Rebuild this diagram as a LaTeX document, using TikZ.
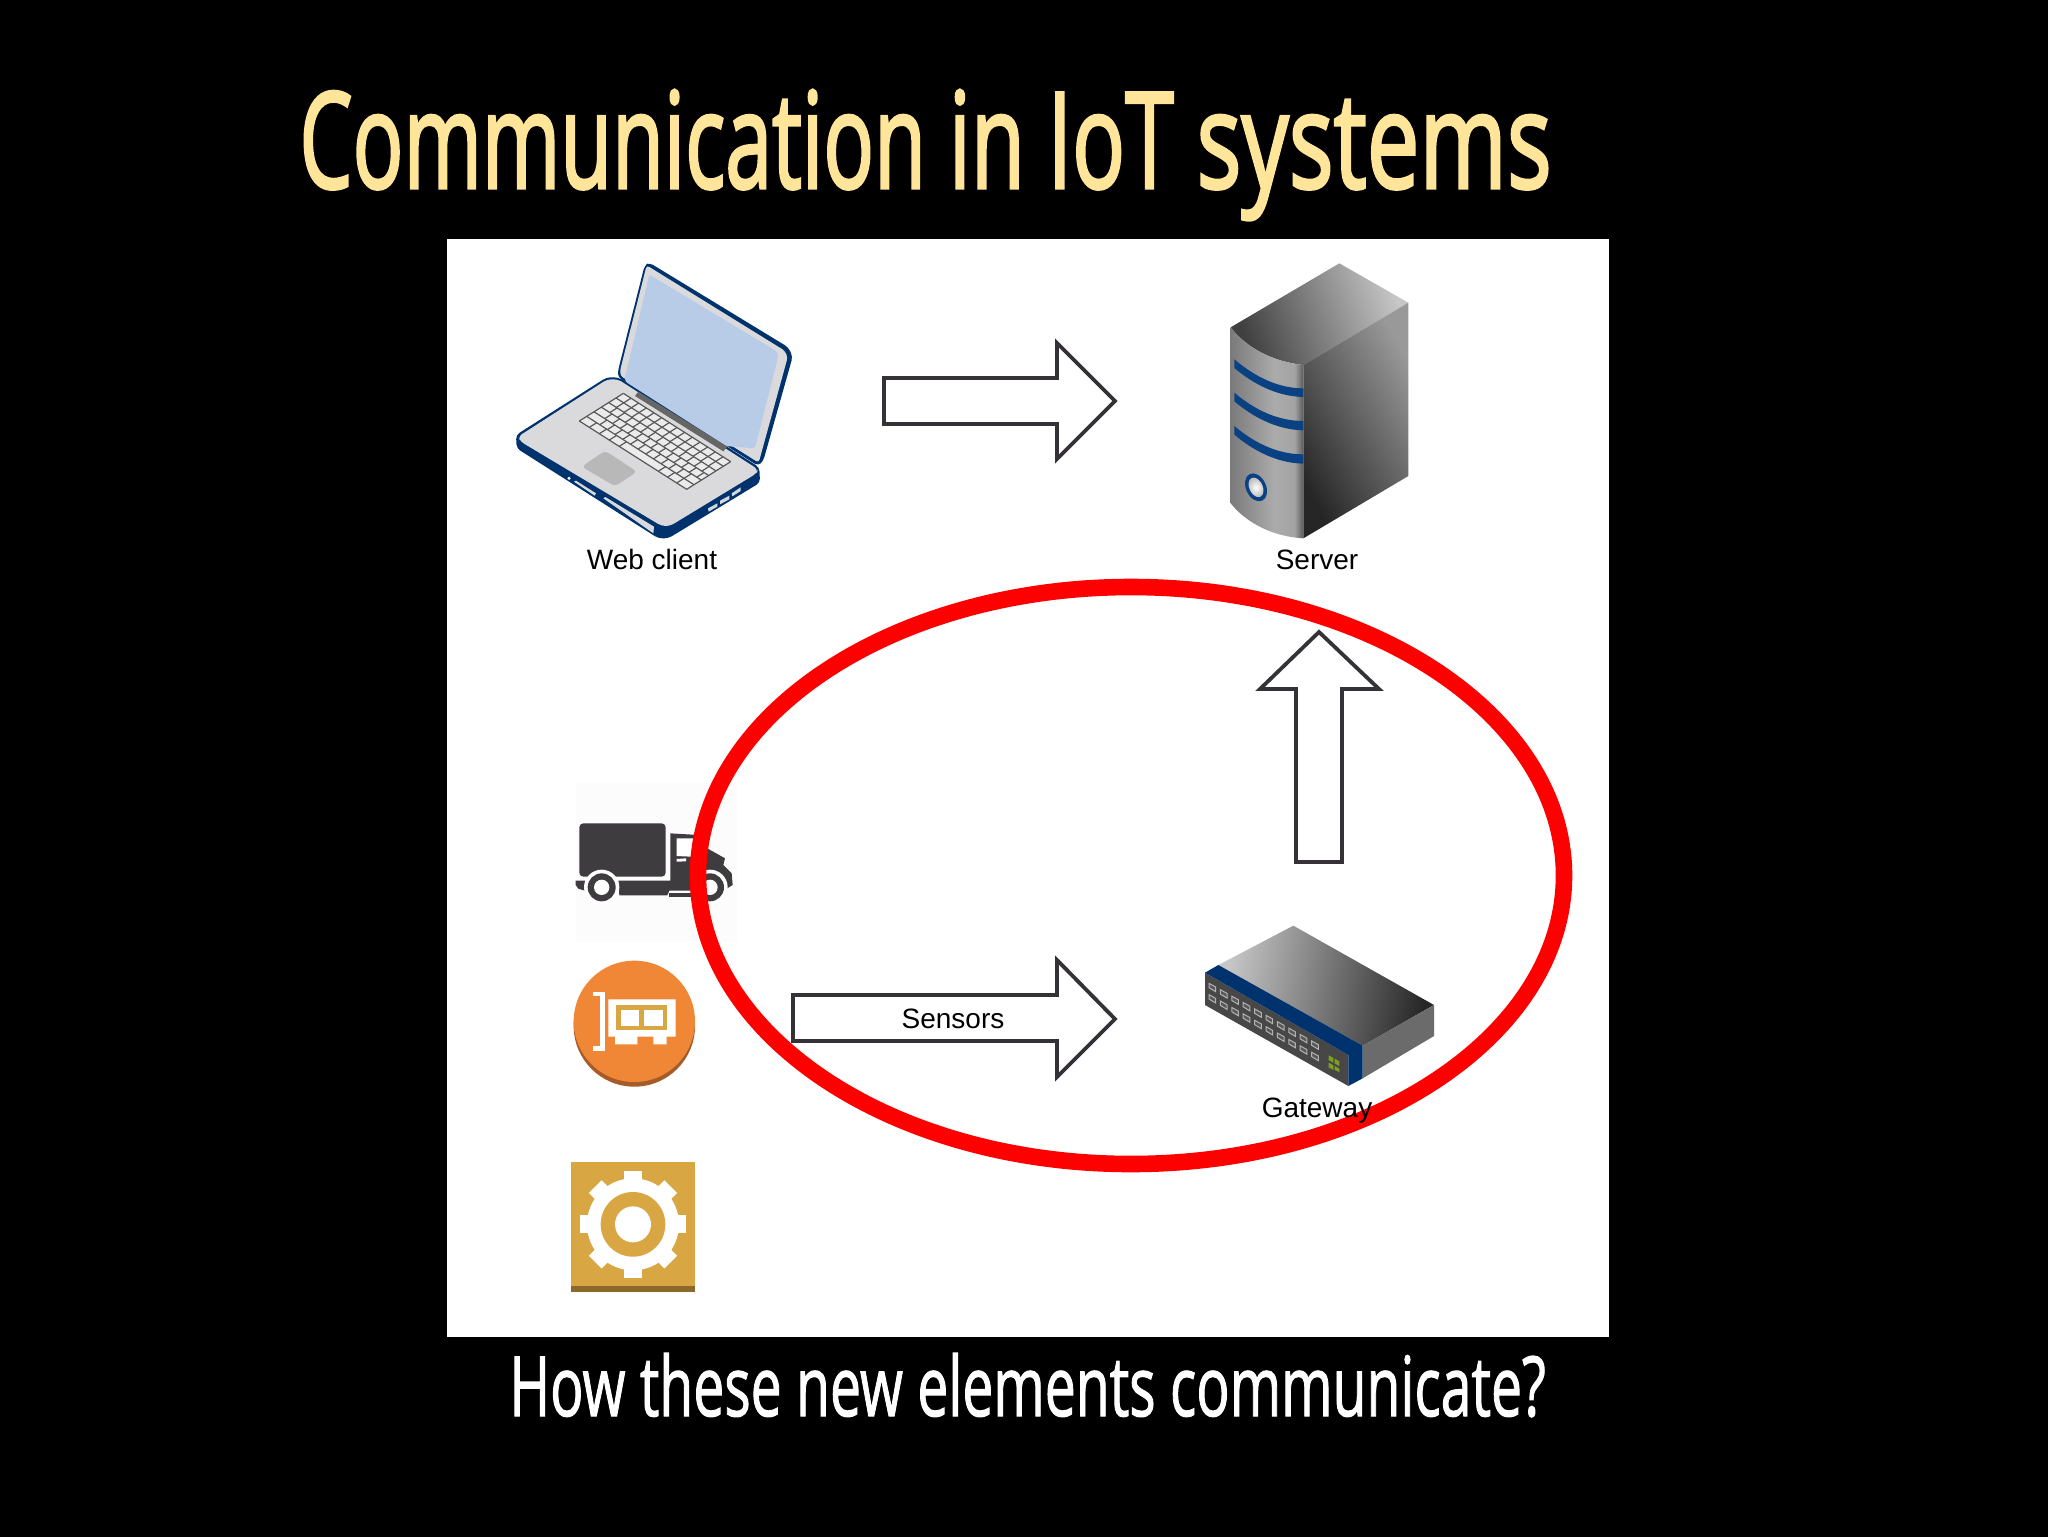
\documentclass[tikz,border=0pt]{standalone}
\usepackage{fontspec}
\setmainfont{Liberation Sans}
\newfontfamily\headfont[RawFeature={embolden=1.5}]{Open Sans}
\newfontfamily\titlefont[RawFeature={embolden=2.4}]{Open Sans}
\definecolor{titlecol}{RGB}{255,229,153}
\definecolor{lapblue}{RGB}{0,51,110}
\definecolor{lapgray}{RGB}{218,218,220}
\definecolor{lapscreen}{RGB}{184,204,232}
\definecolor{bandblue}{RGB}{10,65,130}
\definecolor{truckcol}{RGB}{62,60,62}
\definecolor{nicor}{RGB}{240,135,55}
\definecolor{nicdark}{RGB}{165,92,40}
\definecolor{gold}{RGB}{216,166,66}
\definecolor{golddark}{RGB}{140,105,42}
\definecolor{arrowcol}{RGB}{52,50,54}
\definecolor{ledcol}{RGB}{125,160,30}
\pgfdeclarehorizontalshading{srvfront}{100bp}{
  color(0bp)=(black!52); color(25bp)=(black!52); color(55bp)=(black!33);
  color(69bp)=(black!36); color(75bp)=(black!65); color(100bp)=(black!65)}
\tikzset{
  blockarrow/.style={draw=arrowcol,line width=1.9pt,fill=white,miter limit=10},
  lbl/.style={inner sep=0pt,anchor=base,font=\fontsize{14pt}{16pt}\selectfont,text=black},
  iconscope/.style={shift={#1},scale=0.33333},
  keyline/.style={black!65,line width=.6pt},
  portbox/.style={draw=black!30,fill=black!65,line width=.5pt},
}
\begin{document}
\begin{tikzpicture}[x=0.5pt,y=-0.5pt]
\useasboundingbox (0,0) rectangle (2048,1536);
\fill[black] (-10,-10) rectangle (2058,1546);
\fill[white] (447,239) rectangle (1609,1337);

% ---------- laptop
\begin{scope}[iconscope={(490,240)}]
  \fill[lapblue,rounded corners=2pt] (464,76) -- (478,68) -- (895,322) -- (908,350) -- (820,662) -- (805,678) -- (384,412) -- (384,392) -- cycle;
  \fill[lapgray,rounded corners=1.5pt] (470,76) -- (884,332) -- (893,352) -- (806,668) -- (392,408) -- (390,392) -- cycle;
  \fill[lapscreen,rounded corners=1pt] (478,104) -- (862,335) -- (864,352) -- (795,625) -- (705,618) -- (440,456) -- (403,420) -- cycle;
  \fill[lapblue,rounded corners=2pt] (78,585) -- (350,412) -- (385,412) -- (808,682) -- (810,728) -- (535,895) -- (505,895) -- (80,625) -- cycle;
  \fill[lapgray,rounded corners=2pt] (84,590) -- (352,418) -- (384,418) -- (804,688) -- (800,700) -- (540,858) -- (515,858) -- (92,605) -- cycle;
  \fill[black!60] (445,455) -- (712,620) -- (700,634) -- (435,468) -- cycle;
  \fill[black!28,rounded corners=2pt] (275,680) -- (345,632) -- (441,695) -- (375,739) -- cycle;
  \fill[white] (237,715) circle (5);
  \fill[lapgray] (252,725) -- (258,722) -- (318,760) -- (314,767) -- cycle;
  \fill[lapgray] (340,775) -- (346,771) -- (492,860) -- (490,880) -- cycle;
  \fill[lapgray!80!lapscreen] (654,805) -- (682,790) -- (682,800) -- (656,815) -- cycle;
  \fill[lapgray!80!lapscreen] (690,782) -- (718,767) -- (718,778) -- (690,793) -- cycle;
  \fill[lapgray!80!lapscreen] (725,760) -- (752,742) -- (752,753) -- (727,769) -- cycle;
\end{scope}
% keyboard (own unit vectors: one key wide, one row deep)
\begin{scope}[x={(3.833pt,-2.44pt)},y={(3.667pt,2.305pt)},shift={(289.67pt,-210.5pt)}]
  \fill[lapgray!55!white] (0,0) -- (14,0) -- (14,6) -- (0,6) -- cycle;
  \foreach \r in {0,...,6} \draw[keyline] (0,\r) -- (14,\r);
  \draw[keyline] (0,0) -- (0,6) (14,0) -- (14,6);
  \foreach \c in {1.3,2.6,3.9,5.2,10.3,11.5,12.7} \draw[keyline] (\c,0) -- (\c,1);
  \foreach \c in {1.7,2.7,...,12.7} \draw[keyline] (\c,1) -- (\c,2);
  \foreach \c in {1.4,2.4,...,13.4} \draw[keyline] (\c,2) -- (\c,3);
  \foreach \c in {1.1,2.1,...,13.1} \draw[keyline] (\c,3) -- (\c,4);
  \foreach \c in {1,2,...,13} \draw[keyline] (\c,4) -- (\c,5);
  \foreach \c in {1,2,...,13} \draw[keyline] (\c,5) -- (\c,6);
\end{scope}

% ---------- server
\begin{scope}[iconscope={(1180,240)}]
  \shade[left color=black!75,middle color=black!60,right color=black!22,shading angle=110]
    (152,262) -- (478,70) -- (685,188) -- (370,375) .. controls (280,365) and (200,325) .. cycle;
  \shade[left color=black!85,right color=black!40,shading angle=120]
    (370,375) -- (685,188) -- (685,708) -- (370,895) -- cycle;
  \shade[shading=srvfront]
    (152,262) .. controls (200,325) and (280,365) .. (370,375) -- (370,895) .. controls (280,890) and (200,850) .. (152,790) -- cycle;
  \fill[bandblue] (163,358) .. controls (230,415) and (300,445) .. (370,445) -- (370,471) .. controls (290,469) and (220,432) .. (163,384) -- cycle;
  \fill[bandblue] (163,458) .. controls (230,515) and (300,543) .. (370,543) -- (370,571) .. controls (290,569) and (220,532) .. (163,484) -- cycle;
  \fill[bandblue] (163,558) .. controls (230,615) and (300,643) .. (370,643) -- (370,671) .. controls (290,669) and (220,632) .. (163,584) -- cycle;
  \fill[bandblue,rotate around={25:(228,742)}] (228,742) ellipse (30 and 44);
  \shade[inner color=white,outer color=black!25,rotate around={25:(228,742)}] (228,742) ellipse (20 and 31);
\end{scope}

% ---------- truck
\fill[black!1] (576,783) rectangle (737,942);
\begin{scope}[iconscope={(550,770)}]
  \fill[truckcol,rounded corners=2pt] (88,160) rectangle (347,320);
  \fill[truckcol] (77,332) -- (112,332) -- (105,362) -- (85,356) -- (77,345) -- cycle;
  \fill[truckcol] (205,332) -- (361,332) -- (361,190) -- (445,195) -- (472,235) -- (525,265) -- (520,285) -- (545,310) -- (548,345) -- (530,356) -- (510,320) -- (450,320) -- (430,362) -- (358,362) -- (352,376) -- (208,376) -- cycle;
  \fill[white] (380,205) -- (428,205) -- (468,262) -- (380,258) -- cycle;
  \fill[white] (380,267) -- (408,265) -- (408,274) -- (380,275) -- cycle;
  \fill[truckcol] (358,370) -- (425,370) -- (425,380) -- (358,380) -- cycle;
  \fill[white] (155,352) circle (53);
  \fill[white] (480,352) circle (53);
  \fill[truckcol] (155,352) circle (42);
  \fill[truckcol] (480,352) circle (42);
  \fill[white] (155,352) circle (23);
  \fill[white] (480,352) circle (23);
\end{scope}

% ---------- network card disc
\begin{scope}[iconscope={(550,770)}]
  \fill[nicdark] (253,768) circle (182);
  \fill[nicor] (253,754) circle (182);
  \draw[white,line width=2.2pt,miter limit=10] (128,672) -- (158,672) -- (158,835) -- (128,835);
  \fill[white] (175,688) -- (377,688) -- (377,800) -- (350,800) -- (350,823) -- (310,823) -- (310,800) -- (262,800) -- (262,823) -- (195,823) -- (195,800) -- (175,800) -- cycle;
  \fill[gold] (197,705) rectangle (352,780);
  \fill[white] (213,720) rectangle (268,768);
  \fill[white] (282,720) rectangle (338,768);
\end{scope}

% ---------- gear tile
\begin{scope}[iconscope={(550,1140)}]
  \fill[gold] (63,67) rectangle (436,440);
  \fill[golddark] (63,438) rectangle (436,455);
  \foreach \a in {0,45,90,135} {
    \fill[white,rotate around={\a:(249,253)}] (222,93) rectangle (276,413);
  }
  \fill[white] (249,253) circle (138);
  \fill[gold] (249,253) circle (97);
  \fill[white] (249,253) circle (54);
\end{scope}

% ---------- gateway
\begin{scope}[iconscope={(1180,900)}]
  \shade[left color=black!22,right color=black!85,shading angle=80]
    (115,195) -- (340,77) -- (762,315) -- (548,437) -- cycle;
  \fill[black!58] (548,437) -- (762,315) -- (762,408) -- (548,535) -- cycle;
  \fill[black!72] (75,218) -- (505,465) -- (505,558) -- (75,315) -- cycle;
  \fill[lapblue] (75,218) -- (115,195) -- (548,437) -- (548,535) -- (505,558) -- (505,465) -- cycle;
  \foreach \i in {0,...,9} {
    \draw[portbox] ({97+34.2*\i-10},{262+19.2*\i-12}) -- ({97+34.2*\i+10},{262+19.2*\i-1}) -- ({97+34.2*\i+10},{262+19.2*\i+13}) -- ({97+34.2*\i-10},{262+19.2*\i+1}) -- cycle;
    \draw[portbox] ({97+34.2*\i-10},{296+19.2*\i-12}) -- ({97+34.2*\i+10},{296+19.2*\i-1}) -- ({97+34.2*\i+10},{296+19.2*\i+13}) -- ({97+34.2*\i-10},{296+19.2*\i+1}) -- cycle;
  }
  \fill[ledcol] (446,466) -- (460,474) -- (460,488) -- (446,480) -- cycle;
  \fill[ledcol] (464,476) -- (478,484) -- (478,498) -- (464,490) -- cycle;
  \fill[ledcol] (446,488) -- (460,496) -- (460,510) -- (446,502) -- cycle;
  \fill[ledcol] (464,498) -- (478,506) -- (478,516) -- (464,510) -- cycle;
\end{scope}

% ---------- red ring
\draw[red,line width=8.3pt] (1131,875.5) ellipse (433 and 288.5);

% ---------- block arrows
\draw[blockarrow] (884,378) -- (1057,378) -- (1057,343) -- (1115,401) -- (1057,459) -- (1057,424) -- (884,424) -- cycle;
\draw[blockarrow] (793,995) -- (1057,995) -- (1057,960) -- (1115,1019) -- (1057,1077) -- (1057,1041) -- (793,1041) -- cycle;
\draw[blockarrow] (1319,632) -- (1379,689) -- (1342,689) -- (1342,862) -- (1296,862) -- (1296,689) -- (1260,689) -- cycle;

% ---------- labels
\node[lbl] (lblweb) at (652,569) {Web client};
\node[lbl] (lblserver) at (1317,569) {Server};
\node[lbl] (lblgateway) at (1317,1117) {Gateway};
\node[lbl] (lblsensors) at (953,1028) {Sensors};

% ---------- headings
\node[inner sep=0pt,anchor=base west,text=titlecol] (title) at (299,188)
  {\resizebox{626pt}{49pt}{\titlefont \scalebox{0.96}[1]{Communication} in IoT \scalebox{1.07}[1]{systems}}};
\node[inner sep=0pt,anchor=base west,text=white] (question) at (509,1416)
  {\resizebox{518pt}{31.5pt}{\headfont How these new elements communicate?}};
\end{tikzpicture}
\end{document}
